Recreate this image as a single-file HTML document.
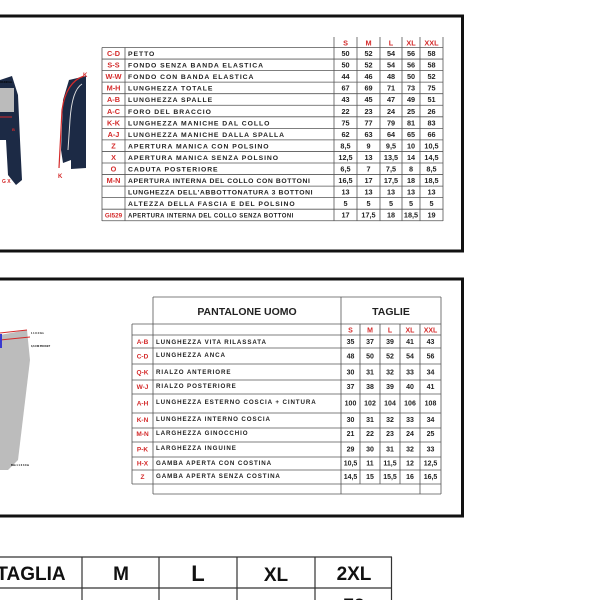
<!DOCTYPE html>
<html><head><meta charset="utf-8"><style>
html,body{margin:0;padding:0;background:#fff;width:600px;height:600px;overflow:hidden}
svg{display:block}
text{font-family:"Liberation Sans",sans-serif;font-weight:bold}
.r{fill:#d42a2a}
.d{font-size:6.8px;fill:#222;letter-spacing:0.95px}
.n{font-size:7.3px;fill:#222;text-anchor:middle}
.l{font-size:7.3px;text-anchor:middle}
</style></head><body>
<svg width="600" height="600" viewBox="0 0 600 600">
<rect x="-5" y="16" width="467.5" height="235" fill="none" stroke="#111" stroke-width="3"/>
<path d="M0 80 L12 76 L18 95 L20 140 L22 180 L16 185 L8 175 L6 140 L0 140 Z" fill="#1c2a45"/>
<rect x="0" y="88" width="14" height="24" fill="#bbb"/>
<line x1="0" y1="117" x2="12" y2="117" stroke="#d42a2a" stroke-width="1"/>
<text x="0" y="83" style="font-size:3px">X1X2Cm</text>
<text x="12" y="131" class="r" style="font-size:4px">B</text>
<text x="2" y="183" class="r" style="font-size:5px">G X</text>
<path d="M69 80 L86 76 L86 168 L71 169 L71 160 L63 163 L61 150 L63 100 Z" fill="#1c2a45"/>
<path d="M84 76 Q66 82 62 110 L59 168" fill="none" stroke="#d42a2a" stroke-width="1.2"/>
<path d="M82 84 Q72 90 70 120 L68 150" fill="none" stroke="#ddd" stroke-width="1"/>
<text x="83" y="77" class="r" style="font-size:6px">K</text>
<text x="58" y="178" class="r" style="font-size:6px">K</text>
<g stroke="#555" stroke-width="0.8" fill="none">
<path d="M334 37V221 M357 37V221 M380 37V221 M402 37V221 M420 37V221 M443 37V221 M102 47.5V221 M125 47.5V221"/>
<path d="M102 47.5H443 M102 59.05H443 M102 70.6H443 M102 82.15H443 M102 93.7H443 M102 105.25H443 M102 116.8H443 M102 128.35H443 M102 139.9H443 M102 151.45H443 M102 163H443 M102 174.55H443 M102 186.1H443 M102 197.65H443 M102 209.2H443 M102 220.75H443"/>
</g>
<g class="r" style="font-size:7.3px;text-anchor:middle">
<text x="345.5" y="45.5">S</text><text x="368.5" y="45.5">M</text><text x="391" y="45.5">L</text><text x="411" y="45.5">XL</text><text x="431.5" y="45.5">XXL</text>
</g>
<g class="r l">
<text x="113.5" y="56">C-D</text><text x="113.5" y="67.6">S-S</text><text x="113.5" y="79.1">W-W</text><text x="113.5" y="90.7">M-H</text><text x="113.5" y="102.2">A-B</text><text x="113.5" y="113.8">A-C</text><text x="113.5" y="125.3">K-K</text><text x="113.5" y="136.9">A-J</text><text x="113.5" y="148.4">Z</text><text x="113.5" y="160">X</text><text x="113.5" y="171.5">O</text><text x="113.5" y="183">M-N</text><text x="113.5" y="217.5" style="font-size:6.3px">GI529</text>
</g>
<g class="d">
<text x="128" y="56">PETTO</text>
<text x="128" y="67.6">FONDO SENZA BANDA ELASTICA</text>
<text x="128" y="79.1">FONDO CON BANDA ELASTICA</text>
<text x="128" y="90.7">LUNGHEZZA TOTALE</text>
<text x="128" y="102.2">LUNGHEZZA SPALLE</text>
<text x="128" y="113.8">FORO DEL BRACCIO</text>
<text x="128" y="125.3">LUNGHEZZA MANICHE DAL COLLO</text>
<text x="128" y="136.9">LUNGHEZZA MANICHE DALLA SPALLA</text>
<text x="128" y="148.4">APERTURA MANICA CON POLSINO</text>
<text x="128" y="160">APERTURA MANICA SENZA POLSINO</text>
<text x="128" y="171.5">CADUTA POSTERIORE</text>
<text x="128" y="183" style="letter-spacing:0.6px">APERTURA INTERNA DEL COLLO CON BOTTONI</text>
<text x="128" y="194.6" style="letter-spacing:0.6px">LUNGHEZZA DELL'ABBOTTONATURA 3 BOTTONI</text>
<text x="128" y="206.2">ALTEZZA DELLA FASCIA E DEL POLSINO</text>
<text x="128" y="217.7" style="font-size:6px;letter-spacing:0.45px">APERTURA INTERNA DEL COLLO SENZA BOTTONI</text>
</g>
<g class="n">
<text x="345.5" y="56">50</text><text x="368.5" y="56">52</text><text x="391" y="56">54</text><text x="411" y="56">56</text><text x="431.5" y="56">58</text>
<text x="345.5" y="67.6">50</text><text x="368.5" y="67.6">52</text><text x="391" y="67.6">54</text><text x="411" y="67.6">56</text><text x="431.5" y="67.6">58</text>
<text x="345.5" y="79.1">44</text><text x="368.5" y="79.1">46</text><text x="391" y="79.1">48</text><text x="411" y="79.1">50</text><text x="431.5" y="79.1">52</text>
<text x="345.5" y="90.7">67</text><text x="368.5" y="90.7">69</text><text x="391" y="90.7">71</text><text x="411" y="90.7">73</text><text x="431.5" y="90.7">75</text>
<text x="345.5" y="102.2">43</text><text x="368.5" y="102.2">45</text><text x="391" y="102.2">47</text><text x="411" y="102.2">49</text><text x="431.5" y="102.2">51</text>
<text x="345.5" y="113.8">22</text><text x="368.5" y="113.8">23</text><text x="391" y="113.8">24</text><text x="411" y="113.8">25</text><text x="431.5" y="113.8">26</text>
<text x="345.5" y="125.3">75</text><text x="368.5" y="125.3">77</text><text x="391" y="125.3">79</text><text x="411" y="125.3">81</text><text x="431.5" y="125.3">83</text>
<text x="345.5" y="136.9">62</text><text x="368.5" y="136.9">63</text><text x="391" y="136.9">64</text><text x="411" y="136.9">65</text><text x="431.5" y="136.9">66</text>
<text x="345.5" y="148.4">8,5</text><text x="368.5" y="148.4">9</text><text x="391" y="148.4">9,5</text><text x="411" y="148.4">10</text><text x="431.5" y="148.4">10,5</text>
<text x="345.5" y="160">12,5</text><text x="368.5" y="160">13</text><text x="391" y="160">13,5</text><text x="411" y="160">14</text><text x="431.5" y="160">14,5</text>
<text x="345.5" y="171.5">6,5</text><text x="368.5" y="171.5">7</text><text x="391" y="171.5">7,5</text><text x="411" y="171.5">8</text><text x="431.5" y="171.5">8,5</text>
<text x="345.5" y="183">16,5</text><text x="368.5" y="183">17</text><text x="391" y="183">17,5</text><text x="411" y="183">18</text><text x="431.5" y="183">18,5</text>
<text x="345.5" y="194.6">13</text><text x="368.5" y="194.6">13</text><text x="391" y="194.6">13</text><text x="411" y="194.6">13</text><text x="431.5" y="194.6">13</text>
<text x="345.5" y="206.2">5</text><text x="368.5" y="206.2">5</text><text x="391" y="206.2">5</text><text x="411" y="206.2">5</text><text x="431.5" y="206.2">5</text>
<text x="345.5" y="217.7">17</text><text x="368.5" y="217.7">17,5</text><text x="391" y="217.7">18</text><text x="411" y="217.7">18,5</text><text x="431.5" y="217.7">19</text>
</g>

<rect x="-5" y="279" width="467.5" height="237" fill="none" stroke="#111" stroke-width="3"/>
<path d="M0 335 L27 330 L30 360 L24 410 L18 460 L8 470 L0 470 Z" fill="#bcbcbc"/>
<path d="M0 333 L27 330 M0 340 L30 337" stroke="#d42a2a" stroke-width="1"/>
<rect x="0" y="334" width="2" height="14" fill="#3a3ad0"/>
<text x="31" y="334" style="font-size:2.5px">1 1 X 4 Cm</text>
<text x="31" y="347" style="font-size:2.5px">3,6 CM  POCKET</text>
<text x="11" y="466" style="font-size:2.5px">Bnk 1 1 X 3 Cm</text>
<g stroke="#555" stroke-width="0.8" fill="none">
<path d="M132 324V484 M153 297V494 M341 297V494 M360 324V484 M380 324V484 M400 324V484 M420 324V494 M441 297V494"/>
<path d="M153 297H441 M132 324H441 M132 335H441 M132 348H441 M132 364H441 M132 380H441 M132 394H441 M132 413H441 M132 428H441 M132 442H441 M132 457H441 M132 470H441 M132 484H441 M153 494H441"/>
</g>
<text x="247" y="315" style="font-size:10.5px;text-anchor:middle;fill:#222">PANTALONE UOMO</text>
<text x="391" y="315" style="font-size:10.5px;text-anchor:middle;fill:#222">TAGLIE</text>
<g class="r" style="font-size:7px;text-anchor:middle">
<text x="350.5" y="332.5">S</text><text x="370" y="332.5">M</text><text x="390" y="332.5">L</text><text x="410" y="332.5">XL</text><text x="430.5" y="332.5">XXL</text>
</g>
<g class="r" style="font-size:6.5px;text-anchor:middle">
<text x="142.5" y="344">A-B</text><text x="142.5" y="358.5">C-D</text><text x="142.5" y="374.5">Q-K</text><text x="142.5" y="389">W-J</text><text x="142.5" y="405.5">A-H</text><text x="142.5" y="422">K-N</text><text x="142.5" y="436">M-N</text><text x="142.5" y="451.5">P-K</text><text x="142.5" y="465.5">H-X</text><text x="142.5" y="479">Z</text>
</g>
<g style="font-size:6.2px;fill:#222;letter-spacing:0.9px">
<text x="156" y="344">LUNGHEZZA VITA RILASSATA</text>
<text x="156" y="357">LUNGHEZZA ANCA</text>
<text x="156" y="374">RIALZO ANTERIORE</text>
<text x="156" y="388">RIALZO POSTERIORE</text>
<text x="156" y="404">LUNGHEZZA ESTERNO COSCIA + CINTURA</text>
<text x="156" y="421">LUNGHEZZA INTERNO COSCIA</text>
<text x="156" y="435">LARGHEZZA GINOCCHIO</text>
<text x="156" y="450">LARGHEZZA INGUINE</text>
<text x="156" y="465">GAMBA APERTA CON COSTINA</text>
<text x="156" y="478">GAMBA APERTA SENZA COSTINA</text>
</g>
<g style="font-size:7px;fill:#222;text-anchor:middle">
<text x="350.5" y="344">35</text><text x="370" y="344">37</text><text x="390" y="344">39</text><text x="410" y="344">41</text><text x="430.5" y="344">43</text>
<text x="350.5" y="358.5">48</text><text x="370" y="358.5">50</text><text x="390" y="358.5">52</text><text x="410" y="358.5">54</text><text x="430.5" y="358.5">56</text>
<text x="350.5" y="374.5">30</text><text x="370" y="374.5">31</text><text x="390" y="374.5">32</text><text x="410" y="374.5">33</text><text x="430.5" y="374.5">34</text>
<text x="350.5" y="389">37</text><text x="370" y="389">38</text><text x="390" y="389">39</text><text x="410" y="389">40</text><text x="430.5" y="389">41</text>
<text x="350.5" y="405.5">100</text><text x="370" y="405.5">102</text><text x="390" y="405.5">104</text><text x="410" y="405.5">106</text><text x="430.5" y="405.5">108</text>
<text x="350.5" y="422">30</text><text x="370" y="422">31</text><text x="390" y="422">32</text><text x="410" y="422">33</text><text x="430.5" y="422">34</text>
<text x="350.5" y="436">21</text><text x="370" y="436">22</text><text x="390" y="436">23</text><text x="410" y="436">24</text><text x="430.5" y="436">25</text>
<text x="350.5" y="451.5">29</text><text x="370" y="451.5">30</text><text x="390" y="451.5">31</text><text x="410" y="451.5">32</text><text x="430.5" y="451.5">33</text>
<text x="350.5" y="465.5">10,5</text><text x="370" y="465.5">11</text><text x="390" y="465.5">11,5</text><text x="410" y="465.5">12</text><text x="430.5" y="465.5">12,5</text>
<text x="350.5" y="479">14,5</text><text x="370" y="479">15</text><text x="390" y="479">15,5</text><text x="410" y="479">16</text><text x="430.5" y="479">16,5</text>
</g>

<g stroke="#333" stroke-width="1.2" fill="none">
<path d="M-2 557H392 M-2 588H392 M82 557V600 M159 557V600 M237 557V600 M315 557V600 M391.5 557V600"/>
</g>
<g style="font-size:19px;fill:#111;text-anchor:middle">
<text x="31" y="580">TAGLIA</text>
<text x="121" y="580">M</text>
<text x="198" y="581" style="font-size:22px">L</text>
<text x="276" y="581">XL</text>
<text x="354" y="580">2XL</text>
<text x="354" y="612">72</text>
</g>
</svg>
</body></html>
